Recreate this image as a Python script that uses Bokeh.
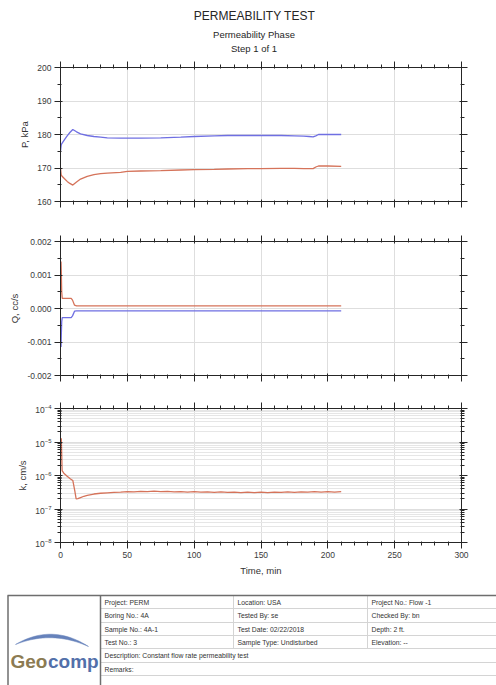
import numpy as np
from bokeh.plotting import figure
from bokeh.layouts import column
from bokeh.models import (Range1d, LinearAxis, LogAxis, SingleIntervalTicker,
                          FixedTicker, CustomJSTickFormatter)
from bokeh.embed import file_html
from bokeh.resources import INLINE
from bokeh.core.properties import value

FONT = "Liberation Sans"

# ---------------- data ----------------
title_main = "PERMEABILITY TEST"
title_subs = ["Permeability Phase", "Step 1 of 1"]

time_p = [0, 0.5, 1, 3, 5, 7, 9.2, 12, 15, 20, 25, 30, 35, 45, 50, 60, 75, 90,
          100, 115, 125, 140, 150, 165, 175, 182, 186, 189, 191, 193, 200, 210]
p_blue = [175.0, 176.8, 177.3, 178.5, 179.6, 180.6, 181.5, 180.8, 180.2, 179.7,
          179.4, 179.2, 179.0, 178.9, 178.9, 178.9, 179.0, 179.2, 179.4, 179.6,
          179.7, 179.7, 179.7, 179.7, 179.6, 179.5, 179.4, 179.3, 179.6, 180.0,
          180.0, 180.0]
p_red = [170.0, 168.0, 167.6, 166.8, 166.0, 165.4, 164.9, 165.8, 166.7, 167.5,
         168.0, 168.3, 168.5, 168.7, 169.0, 169.1, 169.2, 169.4, 169.5, 169.6,
         169.7, 169.8, 169.8, 169.9, 169.9, 169.8, 169.8, 169.8, 170.3, 170.6,
         170.6, 170.5]

time_q = [0.4, 0.6, 0.9, 1.3, 8, 9, 10.5, 12, 210]
q_red = [0.0014, 0.0011, 0.0005, 0.0003, 0.0003, 0.00025, 0.0001, 0.00008, 0.00008]
q_blue = [-0.00115, -0.0008, -0.0004, -0.00027, -0.00027, -0.00022, -0.00008,
          -0.00007, -0.00007]

time_k = [0.3, 0.6, 1.2, 2.5, 5, 7.5, 9.2, 10.7, 11.7, 13, 15, 17.5, 20, 25, 30, 35,
          40, 45, 50, 55, 60, 65, 70, 75, 80, 85, 90, 95, 100, 105, 110, 115, 120,
          125, 130, 135, 140, 145, 150, 155, 160, 165, 170, 175, 180, 185, 190,
          195, 200, 205, 210]
k_vals = [9.0e-6, 1.3e-5, 1.4e-6, 1.17e-6, 9.5e-7, 7.9e-7, 7.1e-7, 3.5e-7, 2.0e-7,
          2.05e-7, 2.2e-7, 2.4e-7, 2.55e-7, 2.8e-7, 2.95e-7, 3.05e-7, 3.15e-7,
          3.2e-7, 3.3e-7, 3.25e-7, 3.35e-7, 3.3e-7, 3.4e-7, 3.3e-7, 3.35e-7,
          3.25e-7, 3.3e-7, 3.2e-7, 3.3e-7, 3.2e-7, 3.25e-7, 3.15e-7, 3.25e-7,
          3.15e-7, 3.2e-7, 3.1e-7, 3.2e-7, 3.1e-7, 3.2e-7, 3.1e-7, 3.2e-7,
          3.15e-7, 3.25e-7, 3.15e-7, 3.25e-7, 3.2e-7, 3.3e-7, 3.2e-7, 3.3e-7,
          3.2e-7, 3.3e-7]

k_major = [1e-8, 1e-7, 1e-6, 1e-5, 1e-4]
k_minor = [m * d for d in [1e-8, 1e-7, 1e-6, 1e-5] for m in range(2, 10)]

table_col1 = ["Project: PERM", "Boring No.: 4A", "Sample No.: 4A-1", "Test No.: 3"]
table_col2 = ["Location: USA", "Tested By: se", "Test Date: 02/22/2018",
              "Sample Type: Undisturbed"]
table_col3 = ["Project No.: Flow -1", "Checked By: bn", "Depth: 2 ft.", "Elevation: --"]
table_wide = ["Description: Constant flow rate permeability test", "Remarks:"]
logo_parts = ["Geo", "comp"]

BLUE = "#6f6fe2"
RED = "#d5735a"
AX = "#262626"
GRID = "#dedede"
W = 496
BL, BR = 60, 35          # left / right borders (frame spans x 60..461)


def style_axis(ax, show_labels):
    ax.axis_line_color = AX
    ax.major_tick_line_color = AX
    ax.minor_tick_line_color = AX
    ax.major_tick_out = 6
    ax.major_tick_in = 2
    ax.minor_tick_out = 3
    ax.minor_tick_in = 1
    ax.major_label_standoff = 3
    ax.major_label_text_font = FONT
    ax.major_label_text_font_size = "8.5px"
    ax.major_label_text_color = "#3a3a3a"
    ax.axis_label_text_font = FONT
    ax.axis_label_text_font_size = "9.5px"
    ax.axis_label_text_font_style = "normal"
    ax.axis_label_text_color = "#333333"
    ax.axis_label_standoff = 4
    if not show_labels:
        ax.formatter = CustomJSTickFormatter(code="return ''")
        ax.major_label_text_font_size = "1px"
        ax.major_label_standoff = 0


def panel(height, top, bottom, y_range, y_type, yticker, yformatter, ylabel, show_x):
    p = figure(width=W, height=height, x_range=Range1d(0, 300), y_range=y_range,
               y_axis_type=y_type, output_backend="svg", toolbar_location=None,
               min_border_left=BL, min_border_right=BR, min_border_top=top,
               min_border_bottom=bottom)
    p.outline_line_color = None
    xt = SingleIntervalTicker(interval=50, num_minor_ticks=5)
    bx = p.xaxis[0]
    ly = p.yaxis[0]
    bx.ticker = xt
    ly.ticker = yticker
    if yformatter is not None:
        ly.formatter = yformatter
    ly.axis_label = ylabel
    if show_x:
        bx.axis_label = "Time, min"
    style_axis(bx, show_x)
    style_axis(ly, True)
    tx = LinearAxis(ticker=xt)
    style_axis(tx, False)
    p.add_layout(tx, "above")
    ry = (LogAxis if y_type == "log" else LinearAxis)(ticker=yticker)
    style_axis(ry, False)
    p.add_layout(ry, "right")
    p.xgrid.ticker = xt
    p.ygrid.ticker = yticker
    p.xgrid.grid_line_color = GRID
    p.ygrid.grid_line_color = GRID
    return p


def blank(height, y0):
    # a figure whose data coordinates equal page pixels (frame aligned with plots)
    f = figure(width=W, height=height, x_range=Range1d(BL, W - BR),
               y_range=Range1d(y0 + height, y0), output_backend="svg",
               toolbar_location=None, min_border_left=BL, min_border_right=BR,
               min_border_top=0, min_border_bottom=0,
               x_axis_location=None, y_axis_location=None)
    f.grid.visible = False
    f.outline_line_color = None
    return f


# ---------------- title ----------------
t = blank(56, 0)
r = t.text(x=[254], y=[15.7], text=[title_main], text_align="center",
           text_baseline="middle", text_font=value(FONT), text_font_size="12px",
           text_color="#262626")
r.level = "overlay"
r = t.text(x=[253.5, 253.5], y=[34, 47.7], text=title_subs, text_align="center",
           text_baseline="middle", text_font=value(FONT), text_font_size="9.5px",
           text_color="#262626")
r.level = "overlay"

# ---------------- P panel ----------------
p1 = panel(165, 11, 20, Range1d(160, 200), "linear",
           SingleIntervalTicker(interval=10, num_minor_ticks=2), None, "P, kPa", False)
p1.line(time_p, p_blue, line_color=BLUE, line_width=1.3)
p1.line(time_p, p_red, line_color=RED, line_width=1.3)

# ---------------- Q panel ----------------
qfmt = CustomJSTickFormatter(code="""
const v = Math.abs(tick) < 1e-9 ? 0 : tick;
return v.toFixed(3);
""")
p2 = panel(167, 20, 13, Range1d(-0.002, 0.002), "linear",
           SingleIntervalTicker(interval=0.001, num_minor_ticks=2), qfmt, "Q, cc/s", False)
p2.line(time_q, q_red, line_color=RED, line_width=1.3)
p2.line(time_q, q_blue, line_color=BLUE, line_width=1.3)

# ---------------- k panel ----------------
kt = FixedTicker(ticks=k_major, minor_ticks=k_minor)
p3 = panel(197, 20, 43, Range1d(1e-8, 1e-4), "log", kt, None, "k, cm/s", True)
p3.ygrid.minor_grid_line_color = "#e6e6e6"
p3.line(time_k, k_vals, line_color=RED, line_width=1.3)

# ---------------- info table ----------------
tb = blank(100, 585)
rends = []
row_y = [608, 622, 635, 648, 662, 675]
rends.append(tb.segment(x0=[100] * 6, y0=row_y, x1=[W] * 6, y1=row_y,
                        line_color="#d4d4d4", line_width=1))
rends.append(tb.segment(x0=[233, 367], y0=[595, 595], x1=[233, 367], y1=[648, 648],
                        line_color="#d4d4d4", line_width=1))
rends.append(tb.segment(x0=[7, 7.5, 100], y0=[595, 595, 595], x1=[W, 7.5, 100],
                        y1=[595, 685, 685], line_color="#6e6e6e", line_width=1.5))
cy = [601.5, 615, 628.5, 641.5]
for xs, col in [(104, table_col1), (237, table_col2), (371, table_col3)]:
    rends.append(tb.text(x=[xs] * 4, y=cy, text=col, text_baseline="middle",
                         text_font=value(FONT), text_font_size="6.8px",
                         text_color="#333333"))
rends.append(tb.text(x=[104, 104], y=[655, 668.5], text=table_wide,
                     text_baseline="middle", text_font=value(FONT),
                     text_font_size="6.8px", text_color="#333333"))
# logo: smooth crescent swoosh + word mark
s = np.linspace(0, 1, 25)
ax0, ax1, acx = 15.0, 88.0, 51.5
ux = (1 - s) ** 2 * ax0 + 2 * (1 - s) * s * acx + s ** 2 * ax1
uy = (1 - s) ** 2 * 644 + 2 * (1 - s) * s * 622.5 + s ** 2 * 646
ly_ = (1 - s) ** 2 * 644 + 2 * (1 - s) * s * 629.5 + s ** 2 * 646
sw_x = list(ux) + list(ux[::-1])
sw_y = list(uy) + list(ly_[::-1])
rends.append(tb.patch(sw_x, sw_y, fill_color="#6682bb", line_color="#6682bb",
                      line_width=0.5))
rends.append(tb.text(x=[10], y=[661], text=[logo_parts[0]], text_baseline="alphabetic",
                     text_font=value(FONT), text_font_size="19px",
                     text_font_style="bold", text_color="#8c7b52"))
rends.append(tb.text(x=[47.5], y=[661], text=[logo_parts[1]],
                     text_baseline="alphabetic", text_font=value(FONT),
                     text_font_size="19px", text_font_style="bold",
                     text_color="#5270aa"))
for r in rends:
    r.level = "overlay"

layout = column(t, p1, p2, p3, tb, spacing=0)
open("out.html", "w").write(file_html(layout, INLINE))
